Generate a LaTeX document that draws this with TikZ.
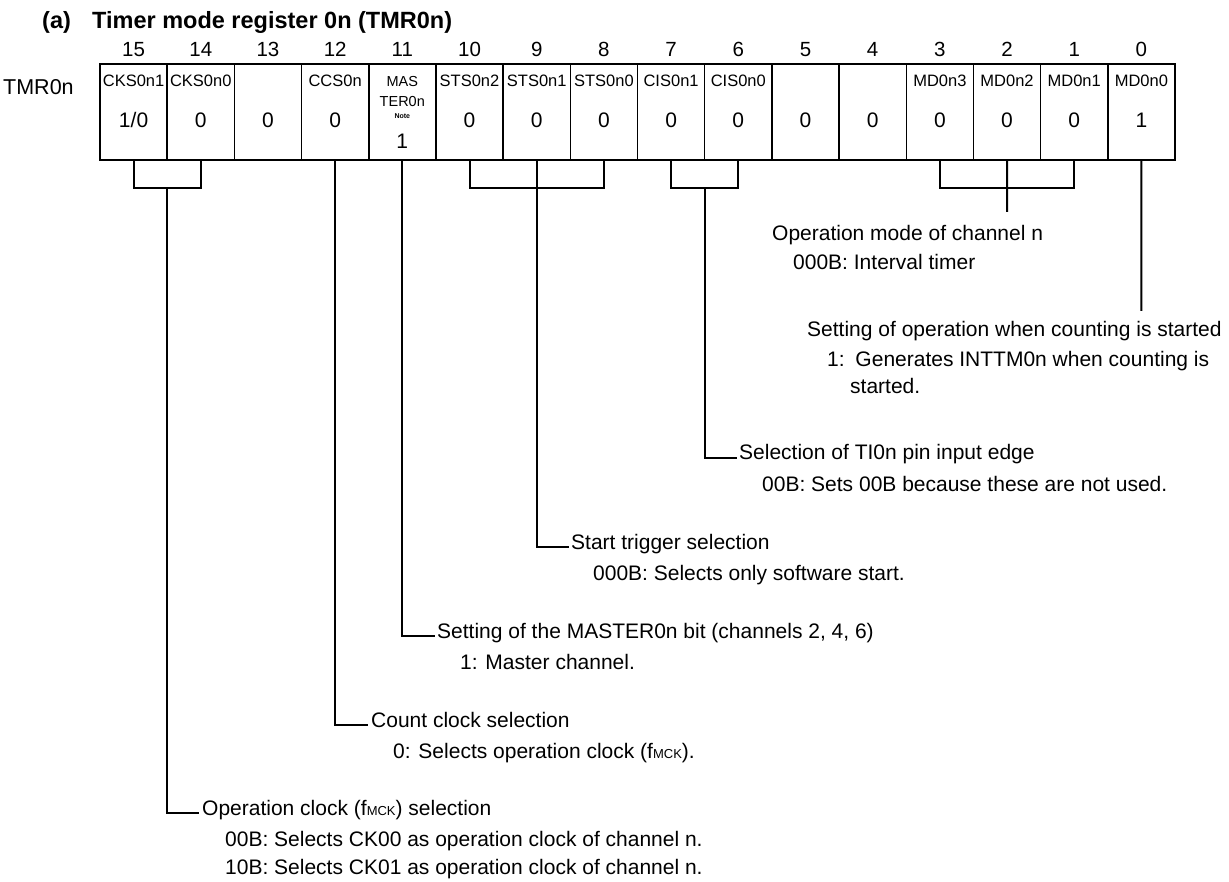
\documentclass[tikz,border=0pt]{standalone}
\usepackage{fontspec}
\setmainfont{Liberation Sans}
\begin{document}
\begin{tikzpicture}[x=1pt,y=-1pt,
  cell/.style={draw, line width=1.5pt, minimum width=67.1875pt, minimum height=96pt, inner sep=0pt, outer sep=0pt},
  fld/.style={font=\fontsize{16.5}{16.5}\selectfont, anchor=base, inner sep=0pt},
  mfld/.style={font=\fontsize{14.5}{14.5}\selectfont, anchor=base, inner sep=0pt},
  val/.style={font=\fontsize{21}{21}\selectfont, anchor=base, inner sep=0pt},
  bitno/.style={font=\fontsize{20.5}{20.5}\selectfont, anchor=base, inner sep=0pt},
  txt/.style={font=\fontsize{21}{21}\selectfont, anchor=base west, inner sep=0pt},
  ttl/.style={font=\bfseries\fontsize{23.5}{23.5}\selectfont, anchor=base west, inner sep=0pt},
  ln/.style={line width=2pt},
]
\useasboundingbox (0,0) rectangle (1229,882);
\fill[white] (0,0) rectangle (1229,882);

% title and register name
\node[ttl] (ta) at (42,29) {(a)};
\node[ttl] (tb) at (92,29) {Timer mode register 0n (TMR0n)};
\node[font=\fontsize{21.5}{21.5}\selectfont, anchor=base west, inner sep=0pt] (reg) at (3,95) {TMR0n};

% cells and bit numbers
\foreach \n in {15,...,0} {
  \node[cell] (r\n) at ({100+67.1875*(15.5-\n)},112) {};
  \node[bitno] (n\n) at ({100+67.1875*(15.5-\n)},57) {\n};
}
\draw[line width=2.5pt] (r15.north west) rectangle (r0.south east);

% field names
\foreach \n/\t in {15/CKS0n1,14/CKS0n0,12/CCS0n,10/STS0n2,9/STS0n1,8/STS0n0,7/CIS0n1,6/CIS0n0,3/MD0n3,2/MD0n2,1/MD0n1,0/MD0n0} {
  \node[fld] (f\n) at ({100+67.1875*(15.5-\n)},87) {\t};
}
% values
\node[val] (v15) at ({100+67.1875*0.5},128) {1/0};
\foreach \n/\v in {14/0,13/0,12/0,10/0,9/0,8/0,7/0,6/0,5/0,4/0,3/0,2/0,1/0,0/1} {
  \node[val] (v\n) at ({100+67.1875*(15.5-\n)},128) {\v};
}
% MASTER0n cell
\node[mfld] (f11a) at (402.3,87) {MAS};
\node[mfld] (f11b) at (402.3,107) {TER0n};
\node[font=\bfseries\fontsize{7}{7}\selectfont, anchor=base, inner sep=0pt] (f11n) at (402.3,119) {Note};
\node[val] (v11) at (402.3,149) {1};

% CKS0n1, CKS0n0
\coordinate (kA) at (167.2,188);
\coordinate (eA) at (199,813);
\draw[ln] (r15.south) |- (kA) -| (r14.south);
\draw[ln] (kA) |- (eA);
\node[txt] (hA) at (202,815) {Operation clock (f{\fontsize{13}{13}\selectfont MCK}) selection};
\node[txt] (sA1) at (225,846) {00B: Selects CK00 as operation clock of channel n.};
\node[txt] (sA2) at (225,874) {10B: Selects CK01 as operation clock of channel n.};

% CCS0n
\coordinate (eB) at (368,725);
\draw[ln] (r12.south) |- (eB);
\node[txt] (hB) at (371,727) {Count clock selection};
\node[txt] (sB1) at (393,758) {0: Selects operation clock (f{\fontsize{13}{13}\selectfont MCK}).};

% MASTER0n
\coordinate (eC) at (435,636);
\draw[ln] (r11.south) |- (eC);
\node[txt] (hC) at (437,638) {Setting of the MASTER0n bit (channels 2, 4, 6)};
\node[txt] (sC1) at (460,669) {1: Master channel.};

% STS0n2..0
\coordinate (kD) at (536.7,188);
\coordinate (eD) at (569,547);
\draw[ln] (r10.south) |- (kD) -| (r8.south);
\draw[ln] (r9.south) |- (eD);
\node[txt] (hD) at (571,549) {Start trigger selection};
\node[txt] (sD1) at (593,580) {000B: Selects only software start.};

% CIS0n1..0
\coordinate (kE) at (704.7,188);
\coordinate (eE) at (737,458);
\draw[ln] (r7.south) |- (kE) -| (r6.south);
\draw[ln] (kE) |- (eE);
\node[txt] (hE) at (739,460) {Selection of TI0n pin input edge};
\node[txt] (sE1) at (762,491) {00B: Sets 00B because these are not used.};

% MD0n3..1
\coordinate (kF) at (1007,188);
\coordinate (eF) at (1007,212);
\draw[ln] (r3.south) |- (kF) -| (r1.south);
\draw[ln] (r2.south) -- (eF);
\node[txt] (hF) at (772,241) {Operation mode of channel n};
\node[txt] (sF1) at (793,270) {000B: Interval timer};

% MD0n0
\coordinate (eG) at (1141.4,311);
\draw[ln] (r0.south) -- (eG);
\node[txt] (hG) at (807,337) {Setting of operation when counting is started};
\node[txt] (sG1) at (827,367) {1:\hspace{3pt} Generates INTTM0n when counting is};
\node[txt] (sG2) at (850,394) {started.};
\end{tikzpicture}
\end{document}
